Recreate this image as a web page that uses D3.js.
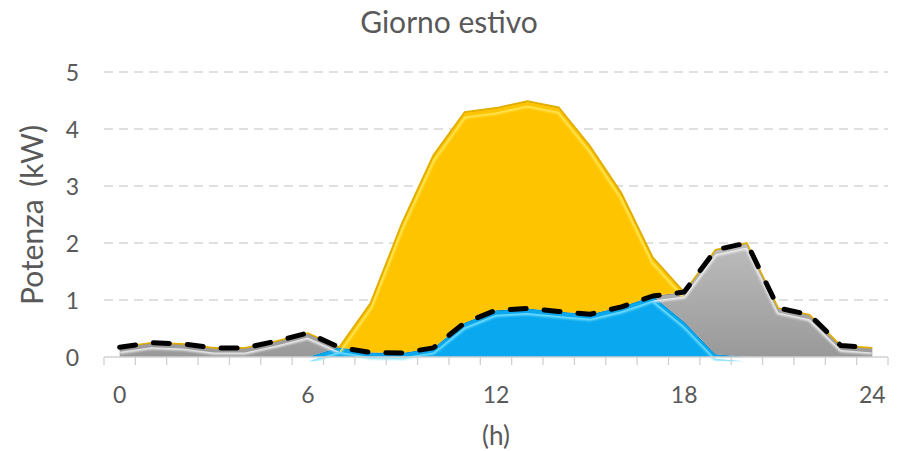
<!DOCTYPE html>
<html>
<head>
<meta charset="utf-8">
<script src="https://cdn.jsdelivr.net/npm/d3@7"></script>
<style>
  html, body { margin: 0; padding: 0; background: #fff; }
  svg { display: block; }
  text { font-family: Lato, "Open Sans", sans-serif; fill: #595959; }
</style>
</head>
<body>
<svg id="chart" width="906" height="451"></svg>
<script>
// ---- data ----
const hours = [0,1,2,3,4,5,6,7,8,9,10,11,12,13,14,15,16,17,18,19,20,21,22,23,24];
const hourLabels = [0, 6, 12, 18, 24];
const yTicks = [0, 1, 2, 3, 4, 5];
// self-consumed PV (blue)
const selfConsumption = [0,0,0,0,0,0,0,0.17,0.08,0.07,0.16,0.6,0.82,0.85,0.8,0.75,0.88,1.07,0.62,0.05,0,0,0,0,0];
// drawn from grid (grey)
const gridImport = [0.17,0.25,0.23,0.16,0.16,0.28,0.42,0,0,0,0,0,0,0,0,0,0,0,0.52,1.83,2.0,0.86,0.74,0.2,0.16];
// PV surplus (yellow)
const pvSurplus = [0,0,0,0,0,0,0,0,0.87,2.28,3.38,3.7,3.55,3.64,3.58,2.95,2.0,0.68,0,0,0,0,0,0,0];
// household load (dashed line)
const load = [0.17,0.25,0.23,0.16,0.16,0.28,0.42,0.17,0.08,0.07,0.16,0.6,0.82,0.85,0.8,0.75,0.88,1.07,1.14,1.88,2.0,0.86,0.74,0.2,0.16];

const title = "Giorno estivo";
const yTitle = "Potenza (kW)";
const xTitle = "(h)";

// ---- layout ----
const svg = d3.select("#chart");
const plot = { left: 104, right: 888, top: 72, bottom: 357 };

const x = d3.scaleBand().domain(hours).range([plot.left, plot.right]).paddingInner(0).paddingOuter(0);
const xc = h => x(h) + x.bandwidth() / 2;
const y = d3.scaleLinear().domain([0, 5]).range([plot.bottom, plot.top]);

const table = hours.map((h, i) => ({
  hour: h, self: selfConsumption[i], grid: gridImport[i], surplus: pvSurplus[i], load: load[i]
}));
const keys = ["self", "grid", "surplus"];
const stacked = d3.stack().keys(keys)(table);

const styles = {
  self:    { base: "#0AA8EE", light: "#74E0FF", dark: "#006A9E" },
  grid:    { base: "#A6A6A6", light: "#EDEDED", dark: "#666666" },
  surplus: { base: "#FFC400", light: "#FFE85A", dark: "#8C6C00" }
};

const defs = svg.append("defs");
defs.append("filter").attr("id", "soft").append("feGaussianBlur").attr("stdDeviation", 1.2);
const grad = defs.append("linearGradient").attr("id", "greyGrad").attr("x1", 0).attr("y1", 0).attr("x2", 0).attr("y2", 1);
grad.append("stop").attr("offset", "0%").attr("stop-color", "#BCBCBC");
grad.append("stop").attr("offset", "100%").attr("stop-color", "#999999");

// ---- gridlines ----
svg.append("g").selectAll("line").data(yTicks.filter(v => v > 0)).join("line")
  .attr("x1", plot.left).attr("x2", plot.right)
  .attr("y1", d => y(d)).attr("y2", d => y(d))
  .attr("stroke", "#D6D6D6").attr("stroke-width", 1.5).attr("stroke-dasharray", "9,6");

// ---- areas ----
const area = d3.area().x(d => xc(d.data.hour)).y0(d => y(d[0])).y1(d => y(d[1]));
const topLine = d3.line().x(d => xc(d.data.hour)).y(d => y(d[1]));

const areasG = svg.append("g");
stacked.forEach((s) => {
  const st = styles[s.key];
  const clipId = "clip-" + s.key;
  defs.append("clipPath").attr("id", clipId).append("path").attr("d", area(s));
  areasG.append("path").attr("d", area(s))
    .attr("fill", s.key === "grid" ? "url(#greyGrad)" : st.base);
  // bevel highlight band just inside the top edge
  areasG.append("path").attr("d", topLine(s))
    .attr("fill", "none").attr("stroke", st.light).attr("stroke-width", 4)
    .attr("transform", "translate(0,4.5)").attr("clip-path", `url(#${clipId})`)
    .attr("filter", "url(#soft)");
  // dark rim
  areasG.append("path").attr("d", topLine(s))
    .attr("fill", "none").attr("stroke", st.dark).attr("stroke-width", 1.4)
    .attr("opacity", 0.6).attr("clip-path", `url(#${clipId})`);
});
const stackTop = stacked[stacked.length - 1];
areasG.append("path").attr("d", topLine(stackTop))
  .attr("fill", "none").attr("stroke", "#E2AE00").attr("stroke-width", 1.6);

// ---- x axis ----
const axisY = plot.bottom;
svg.append("line").attr("x1", plot.left).attr("x2", plot.right)
  .attr("y1", axisY).attr("y2", axisY).attr("stroke", "#D0D0D0").attr("stroke-width", 1.5);
const bounds = hours.map(h => x(h)).concat([plot.right]);
svg.append("g").selectAll("line").data(bounds).join("line")
  .attr("x1", d => d).attr("x2", d => d).attr("y1", axisY).attr("y2", axisY + 8)
  .attr("stroke", "#D0D0D0").attr("stroke-width", 1.3);

const xAxis = d3.axisBottom(x).tickValues(hourLabels).tickSize(0).tickPadding(0);
const gx = svg.append("g").attr("transform", `translate(0,${axisY})`).call(xAxis);
gx.select(".domain").remove();
gx.selectAll("text").attr("dy", null).attr("y", 46)
  .style("font-size", "23px").style("font-family", "Lato, sans-serif").attr("fill", "#595959");

// ---- y axis ----
const yAxis = d3.axisLeft(y).tickValues(yTicks).tickSize(0).tickPadding(0).tickFormat(d3.format("d"));
const gy = svg.append("g").attr("transform", `translate(79,0)`).call(yAxis);
gy.select(".domain").remove();
gy.selectAll("text").attr("x", 0).attr("dy", "0.36em")
  .style("font-size", "23px").style("font-family", "Lato, sans-serif").attr("fill", "#595959");

// ---- load dashed line ----
const loadLine = d3.line().x(d => xc(d.hour)).y(d => y(d.load));
svg.append("path").attr("d", loadLine(table))
  .attr("fill", "none").attr("stroke", "#000").attr("stroke-width", 5)
  .attr("stroke-linecap", "round").attr("stroke-linejoin", "round")
  .attr("stroke-dasharray", "16,18");

// ---- titles ----
svg.append("text").attr("x", 449).attr("y", 33).attr("text-anchor", "middle")
  .style("font-size", "30px").text(title);
svg.append("text").attr("transform", "translate(43,215) rotate(-90)").attr("text-anchor", "middle")
  .style("font-size", "30px").style("word-spacing", "5px").text(yTitle);
svg.append("text").attr("x", 496).attr("y", 445).attr("text-anchor", "middle")
  .style("font-size", "26px").text(xTitle);
</script>
</body>
</html>
